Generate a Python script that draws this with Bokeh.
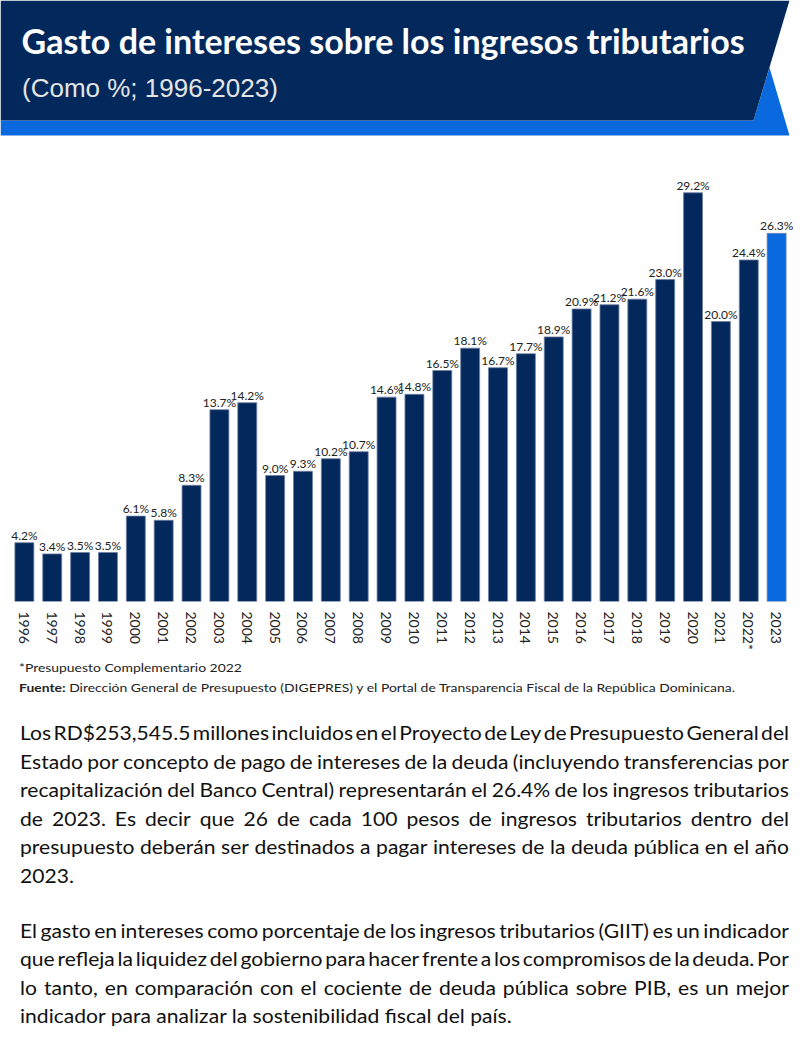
from bokeh.plotting import figure
from bokeh.models import Range1d, FactorRange, ColumnDataSource, Div
from bokeh.layouts import column
from bokeh.core.properties import value
from bokeh.embed import file_html
from bokeh.resources import INLINE

years = ["1996", "1997", "1998", "1999", "2000", "2001", "2002", "2003", "2004",
         "2005", "2006", "2007", "2008", "2009", "2010", "2011", "2012", "2013",
         "2014", "2015", "2016", "2017", "2018", "2019", "2020", "2021", "2022*", "2023"]
values = [4.2, 3.4, 3.5, 3.5, 6.1, 5.8, 8.3, 13.7, 14.2, 9.0, 9.3, 10.2, 10.7, 14.6,
          14.8, 16.5, 18.1, 16.7, 17.7, 18.9, 20.9, 21.2, 21.6, 23.0, 29.2, 20.0, 24.4, 26.3]
labels = [f"{v:.1f}%" for v in values]

title_text = "Gasto de intereses sobre los ingresos tributarios"
subtitle_text = "(Como %; 1996-2023)"
note_text = "*Presupuesto Complementario 2022"
source_label = "Fuente:"
source_text = "Dirección General de Presupuesto (DIGEPRES) y el Portal de Transparencia Fiscal de la República Dominicana."
para1_lines = [
    "Los RD$253,545.5 millones incluidos en el Proyecto de Ley de Presupuesto General del",
    "Estado por concepto de pago de intereses de la deuda (incluyendo transferencias por",
    "recapitalización del Banco Central) representarán el 26.4% de los ingresos tributarios",
    "de 2023. Es decir que 26 de cada 100 pesos de ingresos tributarios dentro del",
    "presupuesto deberán ser destinados a pagar intereses de la deuda pública en el año",
    "2023.",
]
para2_lines = [
    "El gasto en intereses como porcentaje de los ingresos tributarios (GIIT) es un indicador",
    "que refleja la liquidez del gobierno para hacer frente a los compromisos de la deuda. Por",
    "lo tanto, en comparación con el cociente de deuda pública sobre PIB, es un mejor",
    "indicador para analizar la sostenibilidad fiscal del país.",
]

NAVY = "#03295c"
BLUE = "#0b69e0"

# ---------------- header ----------------
hdr = figure(width=800, height=140, x_range=Range1d(0, 800), y_range=Range1d(140, 0),
             output_backend="svg", toolbar_location=None,
             x_axis_location=None, y_axis_location=None,
             min_border=0, outline_line_color=None)
hdr.xgrid.visible = False
hdr.ygrid.visible = False
hdr.patch([0, 753, 769, 789, 0], [120, 120, 67, 135, 135], fill_color=BLUE, line_color=None)
hdr.patch([0, 789, 753, 0], [0, 0, 120, 120], fill_color=NAVY, line_color=None)
hdr.text(x=[21], y=[39.5], text=[title_text], text_font=value("Lato"),
         text_font_style="bold", text_font_size="34px", text_color="white",
         text_baseline="middle", text_align="left")
hdr.text(x=[21.5], y=[87], text=[subtitle_text], text_font=value("Liberation Sans"),
         text_font_size="26px", text_color="#e4e4e4",
         text_baseline="middle", text_align="left")

# ---------------- chart ----------------
colors = [BLUE if y == "2023" else NAVY for y in years]
src = ColumnDataSource(dict(x=years, top=values, lab=labels, color=colors))

p = figure(width=800, height=515,
           x_range=FactorRange(factors=years, range_padding=0.357,
                               range_padding_units="absolute"),
           y_range=Range1d(0, 32.22), output_backend="svg", toolbar_location=None,
           y_axis_location=None, min_border_left=0, min_border_right=0,
           min_border_top=10, min_border_bottom=54, outline_line_color=None)
p.xgrid.visible = False
p.ygrid.visible = False
p.vbar(x="x", top="top", width=0.68, source=src, fill_color="color",
       line_color="#6f7fa3", line_width=0.8)
p.text(x="x", y="top", text="lab", source=src, text_font=value("Lato"),
       text_font_size="12px", text_color="#222222", text_align="center",
       text_baseline="middle", y_offset=-7.5)
ax = p.xaxis[0]
ax.axis_line_color = None
ax.major_tick_line_color = None
ax.minor_tick_line_color = None
ax.major_tick_out = 0
ax.major_tick_in = 0
ax.major_label_standoff = 10
ax.major_label_orientation = "vertical"
ax.major_label_text_font = "Lato"
ax.major_label_text_font_size = "14px"
ax.major_label_text_color = "#222222"

# ---------------- text ----------------
PARA_SX = 1.14
NOTE_SX = 1.16


def line_html(ln, last):
    if last:
        return f'<div>{ln}</div>'
    words = ln.split(" ")
    spans = "".join(f'<span>{w}{" " if i < len(words) - 1 else ""}</span>'
                    for i, w in enumerate(words))
    return f'<div style="display:flex;justify-content:space-between;">{spans}</div>'


def para_html(lines, top):
    inner = "".join(line_html(ln, i == len(lines) - 1) for i, ln in enumerate(lines))
    return (f'<div style="font-size:18.5px;line-height:28.5px;color:#111;'
            f'width:{769 / PARA_SX:.1f}px;transform:scaleX({PARA_SX});transform-origin:0 0;'
            f'margin-top:{top}px;white-space:nowrap;">' + inner + "</div>")


html = (
    '<div style="font-family:Lato;margin-left:20px;">'
    f'<div style="font-size:12px;line-height:20px;color:#222;margin-top:3px;margin-left:-1px;'
    f'transform:scaleX({NOTE_SX});transform-origin:0 0;white-space:nowrap;">'
    f'{note_text}<br><b>{source_label}</b> {source_text}</div>'
    + para_html(para1_lines, 21)
    + para_html(para2_lines, 26.5)
    + '</div>'
)
txt = Div(text=html, width=800, height=390, margin=(0, 0, 0, 0))

layout = column(hdr, p, txt, spacing=0)
open("out.html", "w").write(file_html(layout, INLINE))
